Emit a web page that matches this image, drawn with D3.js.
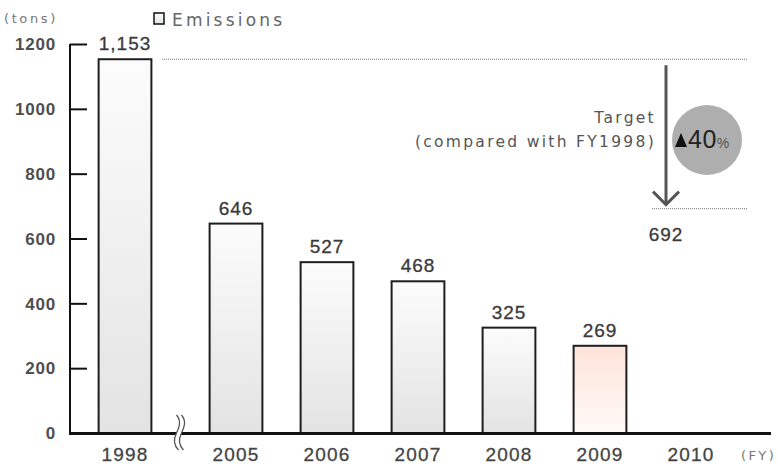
<!DOCTYPE html>
<html>
<head>
<meta charset="utf-8">
<script src="https://cdn.jsdelivr.net/npm/d3@7/dist/d3.min.js"></script>
<style>
  html, body { margin: 0; padding: 0; background: #fff; }
  svg { display: block; }
  text { font-family: "Liberation Sans", Arial, sans-serif; }
  .wide { font-family: "DejaVu Sans", Verdana, sans-serif; }
</style>
</head>
<body>
<div id="chart"></div>
<script>
// Fiscal years and emissions (tons)
const years = ["1998", "2005", "2006", "2007", "2008", "2009", "2010"];
const emissions = [1153, 646, 527, 468, 325, 269, null];
const valueLabels = ["1,153", "646", "527", "468", "325", "269", ""];
const yTicks = [0, 200, 400, 600, 800, 1000, 1200];
const baseValue = 1153;   // FY1998 level
const targetValue = 692;  // 40% reduction target
const targetPct = "40";

const W = 778, H = 467;
const svg = d3.select("#chart").append("svg").attr("width", W).attr("height", H);

const defs = svg.append("defs");
const gGray = defs.append("linearGradient").attr("id", "gray").attr("x1", 0).attr("y1", 0).attr("x2", 0).attr("y2", 1);
gGray.append("stop").attr("offset", "0%").attr("stop-color", "#fcfcfc");
gGray.append("stop").attr("offset", "100%").attr("stop-color", "#e3e3e3");
const gPink = defs.append("linearGradient").attr("id", "pink").attr("x1", 0).attr("y1", 0).attr("x2", 0).attr("y2", 1);
gPink.append("stop").attr("offset", "0%").attr("stop-color", "#fde3d9");
gPink.append("stop").attr("offset", "100%").attr("stop-color", "#fffaf8");

const axisX = 70, baseY = 433, topY = 44;
const y = d3.scaleLinear().domain([0, 1200]).range([baseY, topY]);

// Band scale for the years; bars before the axis break are pulled left
const x = d3.scaleBand().domain(years).range([80.4, 755.6]).padding(0.42);
const breakGap = 20;
const xPos = d => x(d) - (d === "1998" ? breakGap : 0);
const xMid = d => xPos(d) + x.bandwidth() / 2;

const data = years.map((d, i) => ({ year: d, value: emissions[i], label: valueLabels[i] }));

// Bars
svg.append("g").selectAll("rect")
  .data(data.filter(d => d.value != null))
  .join("rect")
  .attr("x", d => xPos(d.year))
  .attr("y", d => y(d.value))
  .attr("width", x.bandwidth())
  .attr("height", d => baseY - y(d.value))
  .attr("fill", d => d.year === "2009" ? "url(#pink)" : "url(#gray)")
  .attr("stroke", "#1e1e1e")
  .attr("stroke-width", 2);

// Value labels
svg.append("g").selectAll("text")
  .data(data.filter(d => d.value != null))
  .join("text")
  .attr("x", d => xMid(d.year))
  .attr("y", d => y(d.value) - 9)
  .attr("text-anchor", "middle")
  .attr("font-size", 19)
  .attr("letter-spacing", 1)
  .attr("fill", "#3a3a3a")
  .attr("stroke", "#3a3a3a").attr("stroke-width", 0.3)
  .text(d => d.label);

// Y axis
const yAxis = d3.axisRight(y).tickValues(yTicks).tickSize(17).tickFormat("");
const gy = svg.append("g").attr("transform", `translate(${axisX},0)`).call(yAxis);
gy.select(".domain").attr("stroke", "#111").attr("stroke-width", 2).attr("d", `M0,${topY}V${baseY}`);
gy.selectAll(".tick line").attr("stroke", "#111").attr("stroke-width", 2);

svg.append("g").selectAll("text")
  .data(yTicks)
  .join("text")
  .attr("x", 56)
  .attr("y", d => y(d))
  .attr("dy", "0.37em")
  .attr("text-anchor", "end")
  .attr("font-size", 17)
  .attr("letter-spacing", 0.8)
  .attr("font-weight", "bold")
  .attr("fill", "#4e4e4e")
  .text(d => d);

// X axis baseline and year labels
svg.append("line")
  .attr("x1", axisX - 1).attr("x2", 771)
  .attr("y1", baseY + 0.5).attr("y2", baseY + 0.5)
  .attr("stroke", "#111").attr("stroke-width", 3);

svg.append("g").selectAll("text")
  .data(years)
  .join("text")
  .attr("x", d => xMid(d))
  .attr("y", 461)
  .attr("text-anchor", "middle")
  .attr("font-size", 19)
  .attr("letter-spacing", 1.2)
  .attr("fill", "#444")
  .attr("stroke", "#444").attr("stroke-width", 0.3)
  .text(d => d);

// Axis break mark
const bx = (xMid("1998") + xMid("2005")) / 2 - 2;
const br = svg.append("g").attr("transform", `translate(${bx},${baseY})`);
br.append("path")
  .attr("d", "M-2,-18 C3,-12 1,-6 -2,0 C-5,6 -5,12 0,17 L5,17 C0,12 0,6 3,0 C6,-6 8,-12 3,-18 Z")
  .attr("fill", "#fff").attr("stroke", "none");
br.append("path")
  .attr("d", "M-2,-18 C3,-12 1,-6 -2,0 C-5,6 -5,12 0,17 M3,-18 C8,-12 6,-6 3,0 C0,6 0,12 5,17")
  .attr("fill", "none").attr("stroke", "#555").attr("stroke-width", 1.3);

// Base and target reference lines
svg.append("line")
  .attr("x1", 162).attr("x2", 748)
  .attr("y1", y(baseValue)).attr("y2", y(baseValue))
  .attr("stroke", "#777").attr("stroke-width", 1).attr("stroke-dasharray", "1,1");
svg.append("line")
  .attr("x1", 652).attr("x2", 748)
  .attr("y1", y(targetValue)).attr("y2", y(targetValue))
  .attr("stroke", "#777").attr("stroke-width", 1).attr("stroke-dasharray", "1,1");

// Reduction arrow
const ax = 666;
svg.append("line")
  .attr("x1", ax).attr("x2", ax)
  .attr("y1", y(baseValue) + 6).attr("y2", y(targetValue) - 4)
  .attr("stroke", "#555").attr("stroke-width", 3);
svg.append("path")
  .attr("d", `M${ax - 13},${y(targetValue) - 17} L${ax},${y(targetValue) - 4} L${ax + 13},${y(targetValue) - 17}`)
  .attr("fill", "none").attr("stroke", "#555").attr("stroke-width", 3);

svg.append("text").attr("class", "wide")
  .attr("x", 656).attr("y", 123)
  .attr("text-anchor", "end").attr("font-size", 15.5).attr("letter-spacing", 2.3)
  .attr("fill", "#555").text("Target");
svg.append("text").attr("class", "wide")
  .attr("x", 656).attr("y", 147)
  .attr("text-anchor", "end").attr("font-size", 15.5).attr("letter-spacing", 2.3)
  .attr("fill", "#555").text("(compared with FY1998)");

// Reduction badge: circle, solid triangle, percentage
svg.append("circle").attr("cx", 707).attr("cy", 140).attr("r", 35).attr("fill", "#aeaeae");
svg.append("path").attr("d", "M675,147 L681,133 L687,147 Z").attr("fill", "#111");
const badge = svg.append("text").attr("x", 688).attr("y", 148);
badge.append("tspan").attr("font-size", 25).attr("letter-spacing", 0.5).attr("fill", "#222").text(targetPct);
badge.append("tspan").attr("font-size", 14).attr("fill", "#555").text("%");

svg.append("text")
  .attr("x", ax).attr("y", y(targetValue) + 32)
  .attr("text-anchor", "middle").attr("font-size", 19).attr("letter-spacing", 1)
  .attr("fill", "#3a3a3a").attr("stroke", "#3a3a3a").attr("stroke-width", 0.3)
  .text(targetValue);

// Units and legend
svg.append("text").attr("class", "wide").attr("x", 4).attr("y", 23).attr("font-size", 13).attr("letter-spacing", 2.6)
  .attr("fill", "#777").text("(tons)");
svg.append("text").attr("class", "wide").attr("x", 741).attr("y", 460).attr("font-size", 13).attr("letter-spacing", 2.4)
  .attr("fill", "#777").text("(FY)");

svg.append("rect").attr("x", 154).attr("y", 13).attr("width", 10).attr("height", 11)
  .attr("fill", "url(#gray)").attr("stroke", "#111").attr("stroke-width", 1.5);
svg.append("text").attr("class", "wide").attr("x", 172).attr("y", 26).attr("font-size", 17).attr("letter-spacing", 3.2)
  .attr("fill", "#666").text("Emissions");
</script>
</body>
</html>
